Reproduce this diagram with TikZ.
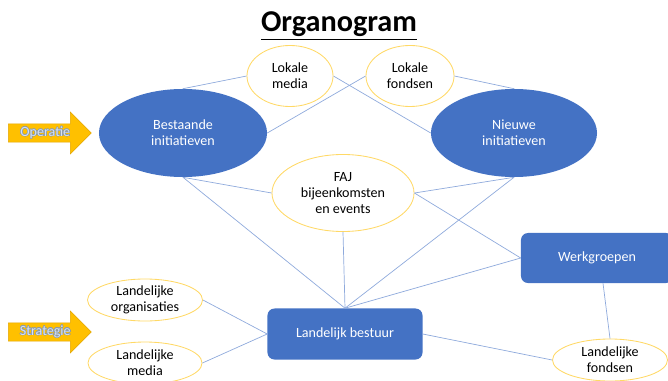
\documentclass[tikz,border=0pt]{standalone}
\usepackage{fontspec}
\setmainfont{Carlito}
\usepackage[copies]{contour}
\contourlength{0.35pt}
\usetikzlibrary{shapes.geometric, shapes.arrows}
\definecolor{vlakblauw}{HTML}{4472C4}
\definecolor{lijnblauw}{HTML}{8FAADC}
\definecolor{randgeel}{HTML}{FFD966}
\definecolor{pijloranje}{HTML}{FFC000}
\definecolor{pijlrand}{HTML}{E3A600}
\definecolor{pijltekst}{HTML}{D6E2F2}
\definecolor{pijlschaduw}{HTML}{8C9AAA}

\begin{document}
\begin{tikzpicture}[x=0.025cm, y=-0.025cm,
    font=\fontsize{10}{11.5}\selectfont,
    blauwovaal/.style={ellipse, fill=vlakblauw, text=white, align=center, inner sep=0pt},
    geelovaal/.style={ellipse, draw=randgeel, fill=white, line width=0.6pt, align=center, inner sep=0pt},
    blok/.style={rectangle, rounded corners=5pt, fill=vlakblauw, text=white},
    pijl/.style={single arrow, fill=pijloranje, draw=pijlrand, line width=0.4pt, text=pijltekst,
        minimum height=2.075cm, minimum width=1.05cm, single arrow head extend=0.2625cm, inner sep=1pt},
    lijn/.style={draw=lijnblauw, line width=0.5pt}]
    \useasboundingbox (0, 0) rectangle (668, 380);

    \node[inner sep=0pt] (titel) at (339, 26) {\fontsize{21.5}{26}\selectfont\bfseries\underline{Organogram}};

    % pijlen links
    \node[pijl, anchor=tail] (operatie) at (8, 133) {\contour{pijlschaduw}{Operatie}};
    \node[pijl, anchor=tail] (strategie) at (8, 332) {\contour{pijlschaduw}{Strategie}};

    % ovalen
    \node[blauwovaal, minimum width=4.2cm, minimum height=2.2cm] (bestaand) at (183, 133) {Bestaande\\initiatieven};
    \node[blauwovaal, minimum width=4.15cm, minimum height=2.2cm] (nieuw) at (514, 133) {Nieuwe\\initiatieven};
    \node[geelovaal, minimum width=2.15cm, minimum height=1.525cm] (lokmedia) at (290, 76) {Lokale\\media};
    \node[geelovaal, minimum width=2.2cm, minimum height=1.525cm] (lokfonds) at (410, 76) {Lokale\\fondsen};
    \node[geelovaal, minimum width=3.55cm, minimum height=1.925cm] (faj) at (343, 193) {FAJ\\bijeenkomsten\\en events};
    \node[geelovaal, minimum width=2.875cm, minimum height=1.05cm] (landorg) at (145, 300) {Landelijke\\organisaties};
    \node[geelovaal, minimum width=2.85cm, minimum height=1.05cm] (landmedia) at (145, 363) {Landelijke\\media};
    \node[geelovaal, minimum width=2.875cm, minimum height=1.05cm] (landfonds) at (610, 360) {Landelijke\\fondsen};

    % blokken
    \node[blok, minimum width=3.875cm, minimum height=1.275cm] (bestuur) at (345, 334) {Landelijk bestuur};
    \node[blok, minimum width=3.8cm, minimum height=1.25cm] (werkgroep) at (597, 258) {Werkgroepen};

    % verbindingen
    \draw[lijn] (bestaand.north) -- (lokmedia.west);
    \draw[lijn] (bestaand.east) -- (lokfonds.west);
    \draw[lijn] (lokmedia.east) -- (nieuw.west);
    \draw[lijn] (lokfonds.east) -- (nieuw.north);
    \draw[lijn] (bestaand.south) -- (faj.west);
    \draw[lijn] (bestaand.south) -- (bestuur.north);
    \draw[lijn] (faj.south) -- (bestuur.north);
    \draw[lijn] (nieuw.south) -- (faj.east);
    \draw[lijn] (nieuw.south) -- (bestuur.north);
    \draw[lijn] (faj.east) -- (werkgroep.west);
    \draw[lijn] (werkgroep.west) -- (bestuur.north);
    \draw[lijn] ([xshift=0.15cm]werkgroep.south) -- (landfonds.north);
    \draw[lijn] (bestuur.east) -- (landfonds.west);
    \draw[lijn] (landorg.east) -- (bestuur.west);
    \draw[lijn] (landmedia.east) -- (bestuur.west);
\end{tikzpicture}
\end{document}
